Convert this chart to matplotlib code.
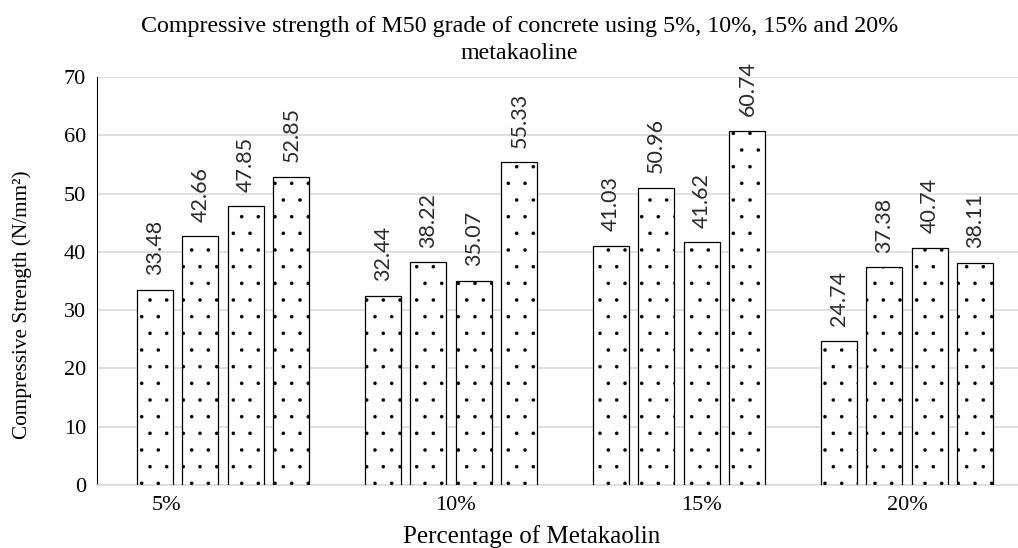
import numpy as np
import matplotlib.pyplot as plt

# compressive strength values (N/mm2), four bars per metakaolin level
groups = ['5%', '10%', '15%', '20%']
bar1 = [33.48, 32.44, 41.03, 24.74]
bar2 = [42.66, 38.22, 50.96, 37.38]
bar3 = [47.85, 35.07, 41.62, 40.74]
bar4 = [52.85, 55.33, 60.74, 38.11]
series = [bar1, bar2, bar3, bar4]

plt.rcParams['hatch.linewidth'] = 0.15
serif = 'Liberation Serif'

fig = plt.figure(figsize=(10.18, 5.48), dpi=100)
ax = fig.add_axes([0.0953, 0.115, 0.9047, 0.7445])

x = np.arange(len(groups))
offsets = [-0.3, -0.1, 0.1, 0.3]
w = 0.158
for vals, off in zip(series, offsets):
    bars = ax.bar(x + off, vals, w, facecolor='white', edgecolor='black',
                  hatch='.', linewidth=0.9, zorder=3)
    for b, v in zip(bars, vals):
        ax.text(b.get_x() + b.get_width() / 2, v + 2.5, f'{v:.2f}',
                rotation=90, ha='center', va='bottom', fontsize=15.5,
                family='Lato', color='#2a2a2a')

ax.set_xlim(-0.553, 3.487)
ax.set_ylim(0, 70)
ax.set_yticks(range(0, 71, 10))
ax.set_yticklabels([str(v) for v in range(0, 71, 10)], family=serif, fontsize=16)
# category labels sit slightly off the group centres
ax.set_xticks(x + np.array([-0.25, 0.02, 0.1, 0.0]))
ax.set_xticklabels(groups, family=serif, fontsize=16)
ax.tick_params(length=0, pad=8)

ax.yaxis.grid(True, color='#d9d9d9', linewidth=1.2, zorder=0)
ax.set_axisbelow(True)
for s in ['top', 'right']:
    ax.spines[s].set_visible(False)
ax.spines['left'].set_color('black')
ax.spines['bottom'].set_color('#d9d9d9')
ax.spines['bottom'].set_linewidth(1.2)

fig.text(0.51, 0.97, 'Compressive strength of M50 grade of concrete using 5%, 10%, 15% and 20%\nmetakaoline',
         ha='center', va='top', family=serif, fontsize=17.3, linespacing=1.35)
fig.text(0.522, 0.0, 'Percentage of Metakaolin', ha='center', va='bottom',
         family=serif, fontsize=18)
fig.text(0.022, 0.443, 'Compressive Strength (N/mm²)', ha='center', va='center',
         rotation=90, family=serif, fontsize=15.3)

fig.savefig('out.png', dpi=100)
